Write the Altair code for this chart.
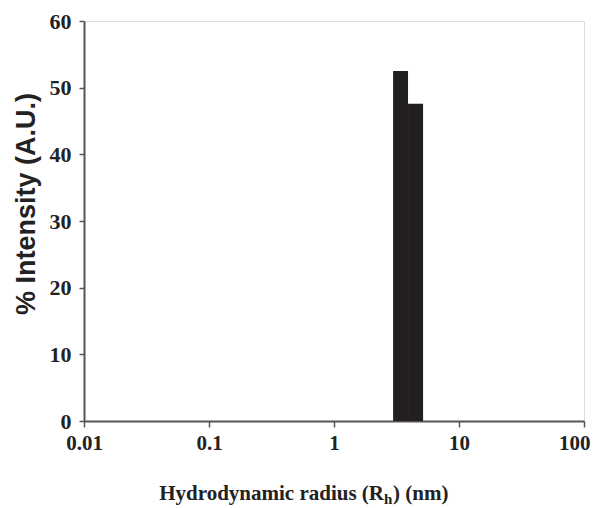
import altair as alt
import pandas as pd

bin_start = [2.97, 3.91]
bin_end = [3.91, 5.16]
intensity = [52.5, 47.6]
x_ticks = [0.01, 0.1, 1, 10, 100]
y_ticks = [0, 10, 20, 30, 40, 50, 60]

df = pd.DataFrame({"start": bin_start, "end": bin_end, "intensity": intensity})

W, H = 500, 400
SERIF = "Liberation Serif"
SANS = "Liberation Sans"
LINE = "#555555"

bars = alt.Chart(df).mark_rect(color="#231f20").encode(
    x=alt.X("start:Q",
            scale=alt.Scale(type="log", domain=[0.01, 100], nice=False),
            axis=alt.Axis(values=x_ticks, format="~g", title=None, grid=False,
                          labelFlush=False, labelBound=False,
                          labelAlign=alt.ExprRef("datum.value >= 100 ? 'right' : 'center'"),
                          labelOffset=alt.ExprRef("datum.value >= 100 ? 6 : 0"),
                          labelFont=SERIF, labelFontWeight="bold", labelFontSize=21,
                          labelColor="#222", labelPadding=5, tickSize=6,
                          tickColor=LINE, domainColor=LINE, domainWidth=2, tickWidth=1.5)),
    x2="end:Q",
    y=alt.Y("intensity:Q",
            scale=alt.Scale(domain=[0, 60], nice=False),
            axis=alt.Axis(values=y_ticks, title=None, grid=False,
                          labelFont=SERIF, labelFontWeight="bold", labelFontSize=22,
                          labelColor="#222", labelPadding=8, tickSize=5,
                          tickColor=LINE, domainColor=LINE, domainWidth=2, tickWidth=1.5)),
    y2=alt.Y2(datum=0),
)

def txt(text, x, y, size, font, align="left", angle=0):
    return alt.Chart(pd.DataFrame({"t": [text]})).mark_text(
        font=font, fontWeight="bold", fontSize=size, align=align,
        baseline="alphabetic", angle=angle, color="#222"
    ).encode(text="t:N", x=alt.value(x), y=alt.value(y))

xt1 = txt("Hydrodynamic radius (R", 300, 479, 21, SERIF, align="right")
xt2 = txt("h", 300, 483, 15, SERIF, align="left")
xt3 = txt(") (nm)", 309, 479, 21, SERIF, align="left")
yt = alt.Chart(pd.DataFrame({"t": ["% Intensity (A.U.)"]})).mark_text(
    font=SANS, fontWeight="bold", fontSize=27, align="center",
    baseline="middle", angle=270, color="#222"
).encode(text="t:N", x=alt.value(-57), y=alt.value(183))

chart = alt.layer(bars, xt1, xt2, xt3, yt).properties(
    width=W, height=H,
    autosize=alt.AutoSizeParams(type="none"),
    padding={"left": 76, "top": 13, "right": 8, "bottom": 85},
).configure_view(stroke=LINE, strokeWidth=2).configure(background="white")

chart.save("out.html", embed_options={"renderer": "svg", "actions": False})
